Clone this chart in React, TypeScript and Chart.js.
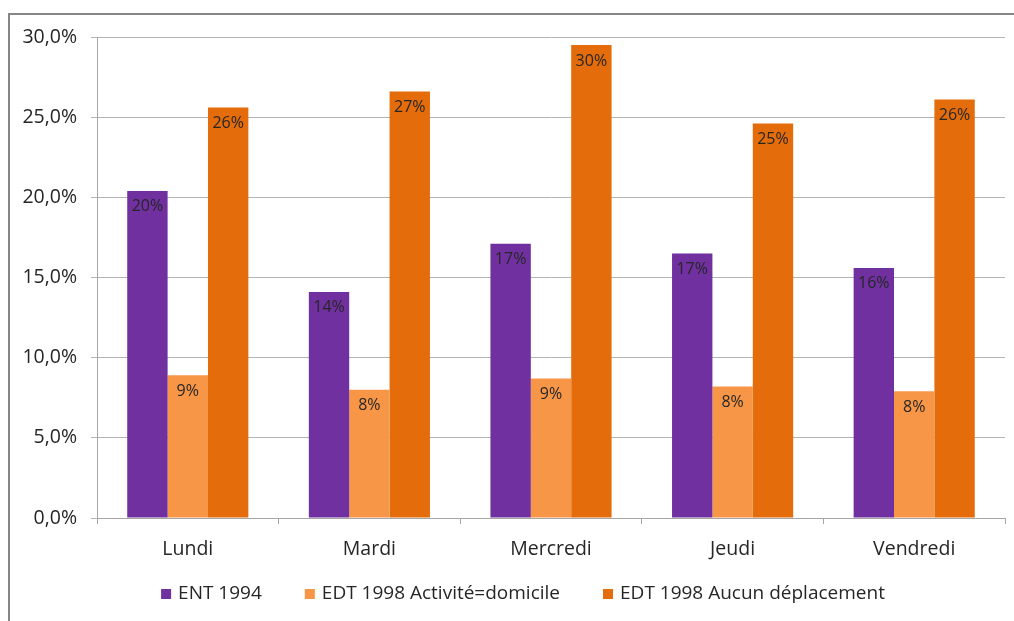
import React, { useEffect, useRef } from 'react';
import { Chart, registerables } from 'chart.js';

Chart.register(...registerables);

const categories = ['Lundi', 'Mardi', 'Mercredi', 'Jeudi', 'Vendredi'];
const ent1994 = [20.4, 14.1, 17.1, 16.5, 15.6];
const edtActiviteDomicile = [8.9, 8.0, 8.7, 8.2, 7.9];
const edtAucunDeplacement = [25.6, 26.6, 29.5, 24.6, 26.1];
const seriesNames = ['ENT 1994', 'EDT 1998 Activité=domicile', 'EDT 1998 Aucun déplacement'];
const seriesColors = ['#7030A0', '#F79646', '#E46C0A'];
const yTicks = [0, 5, 10, 15, 20, 25, 30];

const FONT = '"Open Sans", sans-serif';
const TEXT = '#262626';

const barLabelPlugin = {
  id: 'barLabels',
  afterDatasetsDraw(chart: any) {
    const ctx = chart.ctx;
    ctx.save();
    ctx.font = `16px ${FONT}`;
    ctx.fillStyle = TEXT;
    ctx.textAlign = 'center';
    ctx.textBaseline = 'middle';
    chart.data.datasets.forEach((ds: any, i: number) => {
      const meta = chart.getDatasetMeta(i);
      meta.data.forEach((el: any, j: number) => {
        const v = ds.data[j];
        ctx.fillText(Math.round(v) + '%', el.x, el.y + 16);
      });
    });
    ctx.restore();
  },
};

const legendPlugin = {
  id: 'customLegend',
  afterDraw(chart: any) {
    const ctx = chart.ctx;
    ctx.save();
    ctx.font = `19px ${FONT}`;
    ctx.textBaseline = 'middle';
    ctx.textAlign = 'left';
    const box = 10;
    const boxGap = 7;
    const itemGap = 43;
    const items = chart.data.datasets.map((ds: any) => ({
      label: ds.label,
      color: ds.backgroundColor,
      w: box + boxGap + ctx.measureText(ds.label).width,
    }));
    const total = items.reduce((s: number, it: any) => s + it.w, 0) + itemGap * (items.length - 1);
    let x = 523 - total / 2;
    const y = 594;
    items.forEach((it: any) => {
      ctx.fillStyle = it.color;
      ctx.fillRect(x, y - box / 2, box, box);
      ctx.fillStyle = TEXT;
      ctx.fillText(it.label, x + box + boxGap, y);
      x += it.w + itemGap;
    });
    ctx.restore();
  },
};

export default function App() {
  const ref = useRef<HTMLCanvasElement | null>(null);

  useEffect(() => {
    document.body.style.background = '#ffffff';
    const canvas = ref.current;
    if (!canvas) return;
    const seriesData = [ent1994, edtActiviteDomicile, edtAucunDeplacement];
    const chart = new Chart(canvas, {
      type: 'bar',
      data: {
        labels: categories,
        datasets: seriesData.map((d, i) => ({
          label: seriesNames[i],
          data: d,
          backgroundColor: seriesColors[i],
          borderWidth: 0,
          barPercentage: 1,
          categoryPercentage: 0.667,
        })),
      },
      options: {
        responsive: false,
        animation: false,
        devicePixelRatio: 1,
        layout: { padding: { top: 37, left: 0, right: 9, bottom: 0 } },
        plugins: {
          legend: { display: false },
          tooltip: { enabled: false },
        },
        scales: {
          x: {
            grid: {
              display: true,
              drawOnChartArea: false,
              drawTicks: true,
              tickLength: 6,
              color: '#A6A6A6',
              offset: true,
            },
            border: { display: true, color: '#A6A6A6', width: 1 },
            ticks: { font: { family: FONT, size: 19.5 }, color: TEXT, padding: 14 },
            afterFit(scale: any) {
              scale.height = 103;
            },
          },
          y: {
            min: 0,
            max: 30,
            afterBuildTicks(scale: any) {
              scale.ticks = yTicks.map((v) => ({ value: v }));
            },
            ticks: {
              font: { family: FONT, size: 19.5 },
              color: TEXT,
              padding: 14,
              callback: (v: any) => Number(v).toFixed(1).replace('.', ',') + '%',
            },
            grid: { color: '#B3B3B3', tickLength: 6, drawTicks: true, lineWidth: 1 },
            border: { display: true, color: '#A6A6A6', width: 1 },
            afterFit(scale: any) {
              scale.width = 97;
            },
          },
        },
      },
      plugins: [barLabelPlugin, legendPlugin],
    });
    return () => chart.destroy();
  }, []);

  return (
    <>
      <div
        style={{
          position: 'fixed',
          left: 8,
          top: 13,
          width: 1100,
          height: 700,
          border: '2px solid #868686',
          boxSizing: 'border-box',
          background: '#ffffff',
        }}
      />
      <canvas
        ref={ref}
        width={1014}
        height={621}
        style={{ position: 'fixed', left: 0, top: 0, width: 1014, height: 621 }}
      />
    </>
  );
}
